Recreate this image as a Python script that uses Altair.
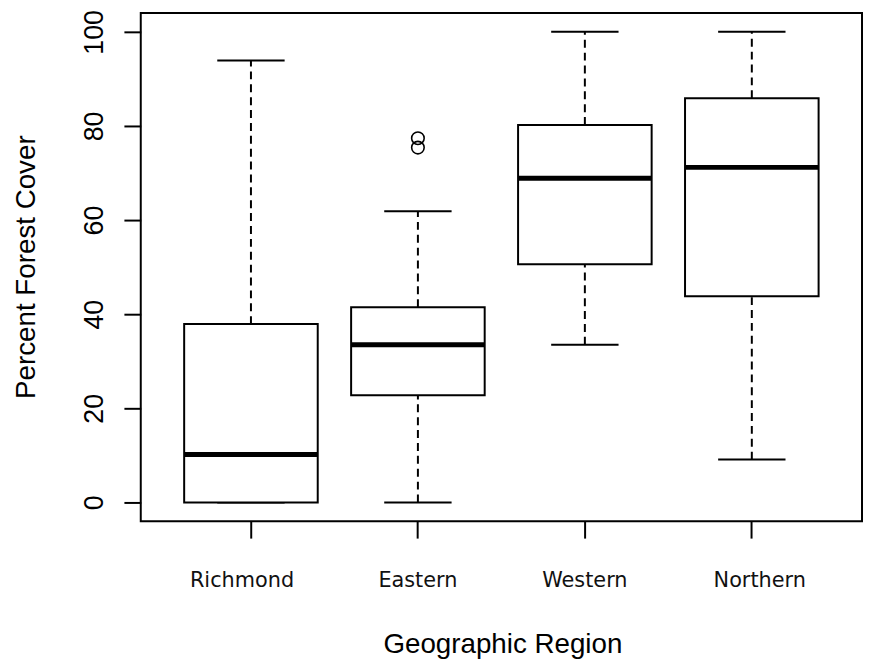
import altair as alt
import pandas as pd

# ---- data ----
regions = ["Richmond", "Eastern", "Western", "Northern"]
whisker_low = [0.0, 0.0, 33.5, 9.1]
q1 = [0.0, 22.8, 50.6, 43.8]
median = [10.2, 33.5, 68.9, 71.2]
q3 = [37.9, 41.5, 80.2, 85.9]
whisker_high = [93.9, 61.9, 100.0, 100.0]
outlier_region = ["Eastern", "Eastern"]
outlier_value = [77.4, 75.4]
y_ticks = [0, 20, 40, 60, 80, 100]

stats = pd.DataFrame({
    "region": regions,
    "lo": whisker_low,
    "q1": q1,
    "med": median,
    "q3": q3,
    "hi": whisker_high,
})
outliers = pd.DataFrame({"region": outlier_region, "value": outlier_value})

x_axis = alt.Axis(
    title="Geographic Region",
    domain=False,
    ticks=True,
    tickSize=17,
    tickWidth=2,
    tickColor="black",
    labelAngle=0,
    labelFont="DejaVu Sans",
    labelFontSize=21,
    labelColor="#111",
    labelBaseline="alphabetic",
    labelPadding=49,
    labelOffset={"condition": [
        {"test": "datum.value === 'Richmond'", "value": -9},
        {"test": "datum.value === 'Northern'", "value": 8}],
        "value": 0},
    titleFont="Liberation Sans",
    titleFontSize=28,
    titleFontWeight="normal",
    titleColor="black",
    titleBaseline="alphabetic",
    titleX=365,
    titleY=132,
)

y_axis = alt.Axis(
    title="Percent Forest Cover",
    values=y_ticks,
    domain=False,
    grid=False,
    ticks=True,
    tickSize=17,
    tickWidth=2,
    tickColor="black",
    labelAngle=270,
    labelAlign="center",
    labelBaseline="alphabetic",
    labelPadding=22,
    labelFont="Liberation Sans",
    labelFontSize=27,
    labelColor="black",
    titleFont="Liberation Sans",
    titleFontSize=28,
    titleFontWeight="normal",
    titleColor="black",
    titleAngle=270,
    titleAlign="center",
    titleBaseline="alphabetic",
    titleX=-107,
    titleY=256,
)

x_scale = alt.Scale(domain=regions, paddingInner=0.2, paddingOuter=0.26)
y_scale = alt.Scale(domain=[-4, 104], nice=False, zero=False)


def xe():
    return alt.X("region:N", sort=regions, scale=x_scale, axis=x_axis)


def ye(field):
    return alt.Y(f"{field}:Q", scale=y_scale, axis=y_axis, title="Percent Forest Cover")


base = alt.Chart(stats)

upper_whisker = base.mark_rule(color="black", strokeWidth=2, strokeDash=[8, 5], opacity=1).encode(
    x=xe(), y=ye("q3"), y2="hi:Q")
lower_whisker = base.mark_rule(color="black", strokeWidth=2, strokeDash=[8, 5], opacity=1).encode(
    x=xe(), y=ye("lo"), y2="q1:Q")
cap_hi = base.mark_tick(color="black", size=68, thickness=2, orient="horizontal", opacity=1).encode(
    x=xe(), y=ye("hi"))
cap_lo = base.mark_tick(color="black", size=68, thickness=2, orient="horizontal", opacity=1).encode(
    x=xe(), y=ye("lo"))
boxes = base.mark_rect(fill="white", stroke="black", strokeWidth=2, opacity=1).encode(
    x=xe(), y=ye("q1"), y2="q3:Q")
medians = base.mark_tick(color="black", size=135, thickness=5, orient="horizontal", opacity=1).encode(
    x=xe(), y=ye("med"))
points = alt.Chart(outliers).mark_point(
    shape="circle", filled=False, color="black", size=160, strokeWidth=1.6, opacity=1
).encode(x=xe(), y=ye("value"))

chart = alt.layer(
    upper_whisker, lower_whisker, cap_hi, cap_lo, boxes, medians, points
).properties(
    width=728,
    height=513,
    autosize=alt.AutoSizeParams(type="none"),
    padding={"left": 134, "top": 2, "right": 1, "bottom": 140},
    background="white",
).configure_view(
    stroke="black", strokeWidth=2, fill="white"
)

chart.save("out.html", embed_options={"renderer": "svg", "actions": False})
